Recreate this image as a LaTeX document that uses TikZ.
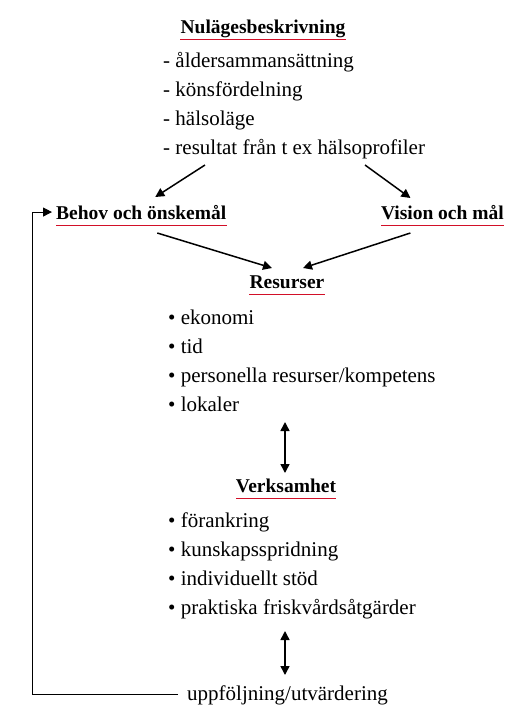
\documentclass[tikz,border=0pt]{standalone}
\usepackage{fontspec}
\setmainfont{Liberation Serif}
\usetikzlibrary{arrows.meta,positioning}
\tikzset{>/.tip={Triangle[length=9pt,width=9pt]}}
\definecolor{ulred}{RGB}{210,15,40}
\tikzset{
  head/.style={font=\bfseries\fontsize{19.5}{22}\selectfont,inner sep=0pt},
  item/.style={font=\fontsize{21}{24}\selectfont,inner sep=0pt,anchor=base west},
  flow/.style={->,line width=1.5pt},
  uline/.style={fill=ulred},
}
\newcommand\underl[1]{\path[uline] ([yshift=-6pt]#1.base west) rectangle ([yshift=-7.4pt]#1.base east);}

\begin{document}
\begin{tikzpicture}[x=1pt,y=-1pt]
        \useasboundingbox (0,0) rectangle (506,705);
        % nulagesbeskrivning
        \node(nul)[head,anchor=base] at (263,33) {Nulägesbeskrivning};
        \foreach \t [count=\i] in {åldersammansättning,könsfördelning,hälsoläge,resultat från t ex hälsoprofiler}
          \node(n\i)[item] at (163,38+29*\i) {- \t};
        % behov och vision
        \node(behov)[head,anchor=base west] at (56,219) {Behov och önskemål};
        \node(vis)[head,anchor=base east] at (504,219) {Vision och mål};
        \draw[flow] ([shift={(42pt,-11pt)}]n4.base west) -- ([shift={(14pt,22pt)}]behov.base);
        \draw[flow] ([shift={(202pt,-11pt)}]n4.base west) -- ([shift={(-32pt,21pt)}]vis.base);
        % resurser
        \node(res)[head,anchor=base] at (287,288) {Resurser};
        \draw[flow] ([shift={(16pt,-14pt)}]behov.base) -- ([shift={(-15pt,20pt)}]res.base);
        \draw[flow] ([shift={(-32pt,-14pt)}]vis.base) -- ([shift={(16pt,20pt)}]res.base);
        \foreach \t [count=\i] in {ekonomi,tid,personella resurser/kompetens,lokaler}
          \node(r\i)[item] at (168,295+29*\i) {\textbullet\ \t};
        % verksamhet
        \node(verk)[head,anchor=base] at (286,492) {Verksamhet};
        \draw[flow,<->] ([shift={(-1pt,19pt)}]verk.base) -- ++(0,-51);
        \foreach \t [count=\i] in {förankring,kunskapsspridning,individuellt stöd,praktiska friskvårdsåtgärder}
          \node(v\i)[item] at (168,498+29*\i) {\textbullet\ \t};
        % uppfoljning
        \node(uppf)[item,inner xsep=9pt] at (178,700) {uppföljning/utvärdering};
        \coordinate(a2) at (285,631);
        \draw[flow,<->] (a2) -- ++(0,44);
        \coordinate(fb) at (32,0);
        \draw[->,line width=1pt,shorten >=4pt] (uppf.west) -- (uppf.west -| fb) |- (behov.west);
        % red underlines
        \foreach \h in {nul,behov,vis,res,verk}
          {\underl{\h}}
      \end{tikzpicture}
\end{document}
